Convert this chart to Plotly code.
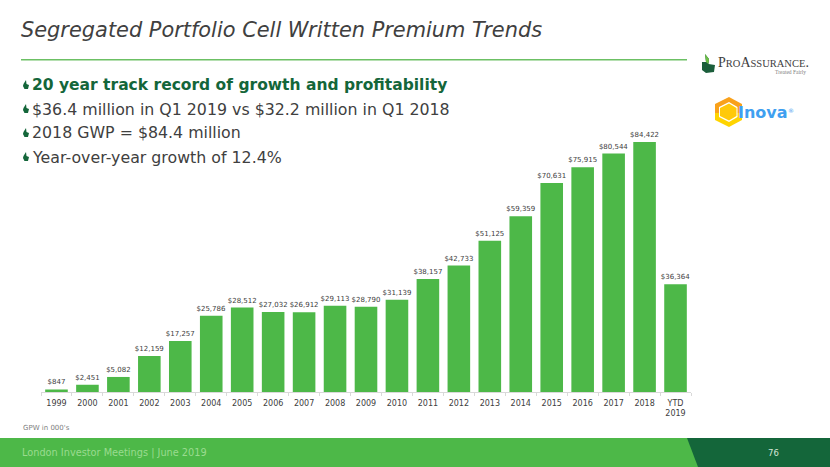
import plotly.graph_objects as go

W, H = 830, 467
categories = ["1999","2000","2001","2002","2003","2004","2005","2006","2007","2008","2009",
              "2010","2011","2012","2013","2014","2015","2016","2017","2018","YTD<br>2019"]
values = [847,2451,5082,12159,17257,25786,28512,27032,26912,29113,28790,
          31139,38157,42733,51125,59359,70631,75915,80544,84422,36364]
title = "Segregated Portfolio Cell Written Premium Trends"
bullets = ["20 year track record of growth and profitability",
           "$36.4 million in Q1 2019 vs $32.2 million in Q1 2018",
           "2018 GWP = $84.4 million",
           "Year-over-year growth of 12.4%"]
footer = "London Investor Meetings | June 2019"
page = "76"
note = "GPW in 000's"

GREEN = "#4DB848"; DARK = "#14663A"; FONT = "DejaVu Sans"
px = lambda x: x / W
py = lambda y: 1 - y / H

fig = go.Figure(go.Bar(
    x=categories, y=values, marker=dict(color=GREEN, line_width=0), width=0.73,
    text=[f"${v:,}" for v in values], textposition="outside", cliponaxis=False,
    constraintext="none",
    textfont=dict(family=FONT, size=7, color="#404040"), hoverinfo="skip"))

shapes = []
def rect(x0, y0, x1, y1, color):
    shapes.append(dict(type="rect", xref="paper", yref="paper", x0=px(x0), x1=px(x1),
                       y0=py(y0), y1=py(y1), fillcolor=color, line_width=0, layer="below"))
def poly(points, color, layer="above"):
    d = "M" + " L".join(f"{px(a):.5f},{py(b):.5f}" for a, b in points) + " Z"
    shapes.append(dict(type="path", xref="paper", yref="paper", path=d,
                       fillcolor=color, line_width=0, layer=layer))

# footer and rule
rect(0, 438, W, H, GREEN)
poly([(687, 438), (W, 438), (W, H), (698, H)], DARK)
rect(21, 59, 687, 60.5, "#6CC064")

# bullet marks
for y in [85, 109, 133, 157]:
    poly([(23.5, y - 1), (26, y - 5), (26.5, y - 1), (29, y), (28, y + 4), (24.5, y + 4), (23, y + 1)], DARK)

# ProAssurance mark
poly([(705, 54), (709, 59), (708.5, 64), (715, 65), (714, 72), (706, 73), (702, 70), (702, 62), (706, 62)], "#1B5E3B")
poly([(705, 54), (709, 59), (708.5, 64), (706, 62)], "#6CBE45")

# Inova hexagon: orange upper ring, yellow lower ring, yellow core
poly([(729, 97), (742, 104), (742, 113), (715, 113), (715, 104)], "#F9A11B")
poly([(715, 113), (742, 113), (742, 120), (729, 127), (715, 120)], "#FFD400")
poly([(729, 102), (737.5, 107), (737.5, 117), (729, 122), (719, 117), (719, 107)], "#FFFFFF")
poly([(729, 103.5), (736.5, 108), (736.5, 116), (729, 120.5), (720, 116), (720, 108)], "#FFC90A")

ann = []
def text(x, y, s, size, color, anchor="left", bold=False, italic=False, family=FONT):
    ann.append(dict(xref="paper", yref="paper", x=px(x), y=py(y), text=f"<b>{s}</b>" if bold else s,
                    showarrow=False, xanchor=anchor, yanchor="middle", align=anchor,
                    borderpad=0, borderwidth=0,
                    font=dict(family=family, size=size, color=color, style="italic" if italic else "normal")))

text(21, 30, title, 20.9, "#404040", italic=True)
text(32, 85, bullets[0], 15.5, DARK, bold=True)
for y, b in zip([109, 133, 157], bullets[1:]):
    text(32, y, b, 15.8, "#404040")
text(23, 428, note, 7, "#808080")
text(22, 453, footer, 9.75, "#9ADB8F")
text(773, 453, page, 8.5, "#D5E5D5", anchor="center")
text(718, 62, "P<span style='font-size:10.5px'>RO</span>A<span style='font-size:10.5px'>SSURANCE</span>.", 14, "#404040", family="Liberation Serif")
text(806, 71.5, "Treated Fairly", 5.5, "#808080", anchor="right", family="Liberation Serif")
text(738, 112, "<b>Inova</b>", 16, "#3FA0F0")
text(788, 110, "®", 6, "#3FA0F0")

fig.update_layout(
    width=W, height=H, margin=dict(l=0, r=0, t=0, b=0), autosize=False,
    paper_bgcolor="white", plot_bgcolor="white", showlegend=False,
    shapes=shapes, annotations=ann, bargap=0.27,
    xaxis=dict(domain=[px(41), px(691)], type="category", tickmode="array",
               tickvals=categories, ticktext=categories, showgrid=False, showline=True,
               linecolor="#D9D9D9", linewidth=1, ticks="outside", ticklen=3, tickcolor="#D9D9D9",
               tickson="boundaries", tickangle=0, ticklabelstandoff=3,
               tickfont=dict(family=FONT, size=8, color="#404040")),
    yaxis=dict(domain=[py(392), py(96)], range=[0, 100000], visible=False, showgrid=False),
)
fig.write_html("out.html", config={"displayModeBar": False},
               post_script="document.body.style.margin='0';")
